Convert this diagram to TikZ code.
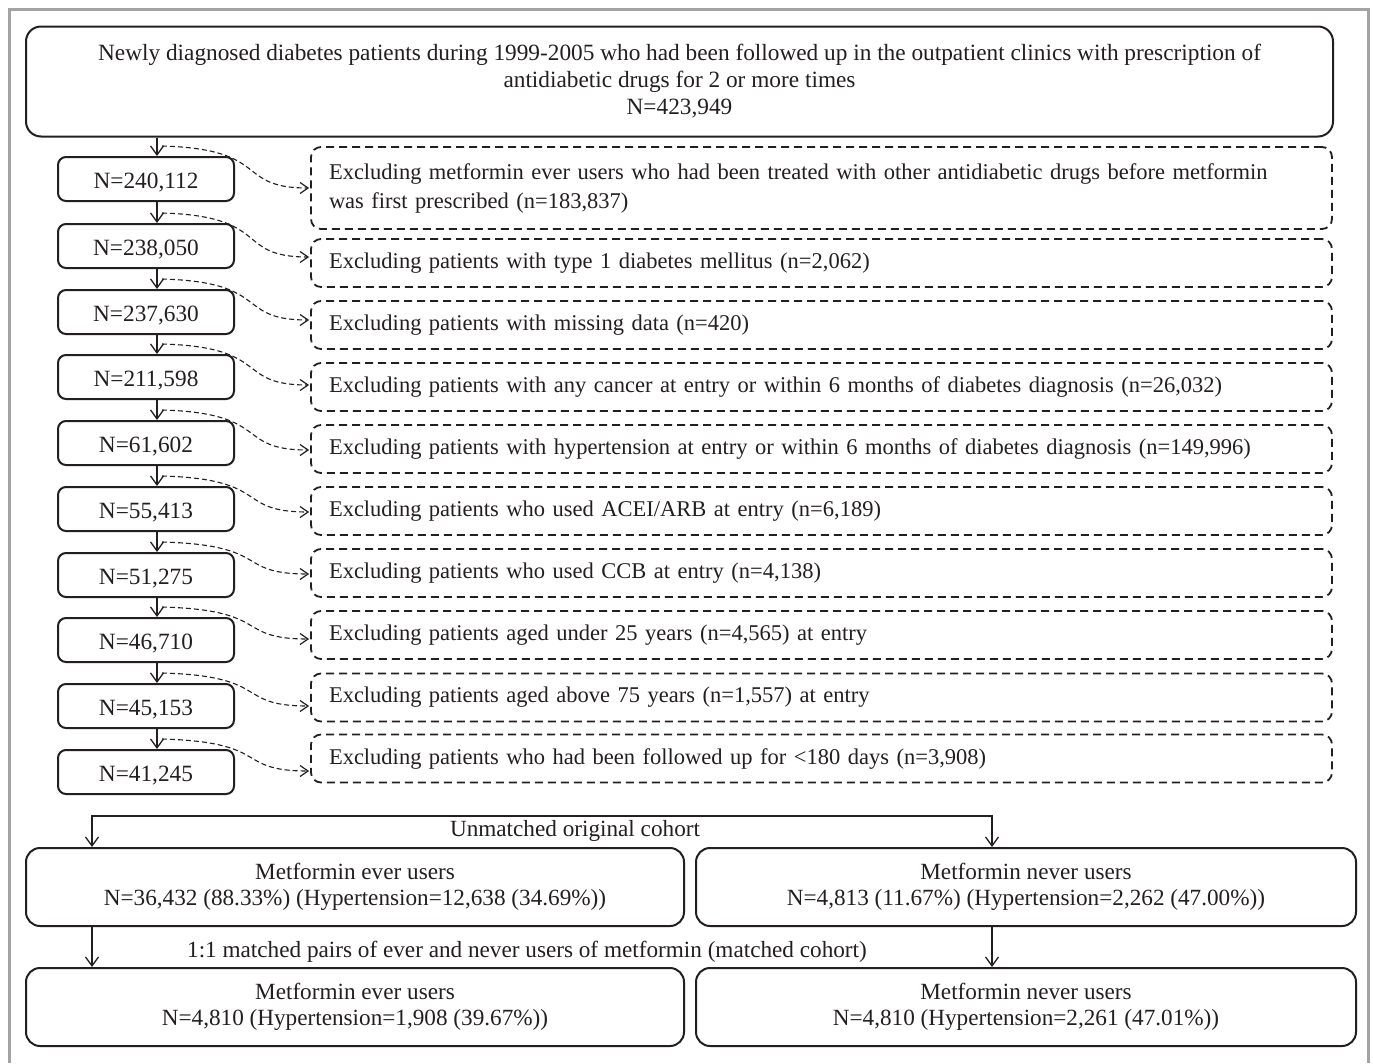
\documentclass[tikz,border=0pt]{standalone}
\usepackage{fontspec}
\setmainfont{Liberation Serif}
\usetikzlibrary{arrows.meta,calc}
\definecolor{ink}{HTML}{231F20}
\definecolor{framegray}{HTML}{A3A3A3}
\begin{document}
\begin{tikzpicture}[x=1pt,y=-1pt,
  font=\fontsize{23.2}{26.5}\selectfont,
  every node/.style={text=ink},
  topbox/.style={draw=ink, line width=2pt, rounded corners=15pt, inner sep=0pt, align=center,
    minimum width=1307pt, minimum height=110pt, font=\fontsize{23.3}{27}\selectfont},
  nbox/.style={draw=ink, line width=2pt, rounded corners=8pt, inner sep=0pt,
    minimum width=176pt, minimum height=44pt, text height=19pt, text depth=0pt,
    font=\fontsize{23.3}{27}\selectfont},
  exbox/.style={draw=ink, line width=1.8pt, dash pattern=on 8pt off 5pt, rounded corners=10pt,
    minimum width=1021pt, text width=985pt, inner xsep=17pt, inner ysep=0pt, align=left, minimum height=48pt,
    font=\fontsize{22.5}{29}\selectfont},
  grpbox/.style={draw=ink, line width=2pt, rounded corners=14pt, inner sep=0pt, align=center,
    minimum height=78pt},
  arr/.style={draw=ink, line width=1.3pt, -{Straight Barb[length=9pt,width=13pt,line width=1.3pt]}},
  biarr/.style={draw=ink, line width=1.3pt, {Straight Barb[length=9pt,width=13pt,line width=1.3pt]}-{Straight Barb[length=9pt,width=13pt,line width=1.3pt]}},
  exarr/.style={draw=ink, line width=1.1pt, dash pattern=on 5pt off 3pt, -{Straight Barb[length=8pt,width=11pt,line width=1.2pt]}},
  lbl/.style={inner sep=0pt}
]
\useasboundingbox (0,0) rectangle (1373,1063);
\fill[white] (0,0) rectangle (1373,1063);
\draw[framegray, line width=3pt] (9,1063) -- (9,9) -- (1368,9) -- (1368,1063);

\node[topbox] (top) at (679.5,81.5) {Newly diagnosed diabetes patients during 1999-2005 who had been followed up in the outpatient clinics with prescription of\\antidiabetic drugs for 2 or more times\\N=423,949};

\node[nbox] (b1) at (146,179) {N=240,112};
\node[nbox] (b2) at (146,246) {N=238,050};
\node[nbox] (b3) at (146,312) {N=237,630};
\node[nbox] (b4) at (146,377) {N=211,598};
\node[nbox] (b5) at (146,443) {N=61,602};
\node[nbox] (b6) at (146,509) {N=55,413};
\node[nbox] (b7) at (146,575) {N=51,275};
\node[nbox] (b8) at (146,640) {N=46,710};
\node[nbox] (b9) at (146,706) {N=45,153};
\node[nbox] (b10) at (146,772) {N=41,245};

\node[exbox, minimum height=82pt] (d1) at (821.5,188) {Excluding metformin ever users who had been treated with other antidiabetic drugs before metformin\\was first prescribed (n=183,837)};
\node[exbox] (d2) at (821.5,263) {Excluding patients with type 1 diabetes mellitus (n=2,062)};
\node[exbox] (d3) at (821.5,325) {Excluding patients with missing data (n=420)};
\node[exbox] (d4) at (821.5,387) {Excluding patients with any cancer at entry or within 6 months of diabetes diagnosis (n=26,032)};
\node[exbox] (d5) at (821.5,449) {Excluding patients with hypertension at entry or within 6 months of diabetes diagnosis (n=149,996)};
\node[exbox] (d6) at (821.5,511) {Excluding patients who used ACEI/ARB at entry (n=6,189)};
\node[exbox] (d7) at (821.5,573) {Excluding patients who used CCB at entry (n=4,138)};
\node[exbox] (d8) at (821.5,635) {Excluding patients aged under 25 years (n=4,565) at entry};
\node[exbox] (d9) at (821.5,697.5) {Excluding patients aged above 75 years (n=1,557) at entry};
\node[exbox] (d10) at (821.5,758.5) {Excluding patients who had been followed up for <180 days (n=3,908)};

\coordinate (ax) at (157,0);
\draw[arr] (top.south -| ax) -- (b1.north -| ax);
\foreach \i/\j in {1/2,2/3,3/4,4/5,5/6,6/7,7/8,8/9,9/10}{
  \draw[arr] (b\i.south -| ax) -- (b\j.north -| ax);
}
\foreach \i/\off in {1/0,2/-6,3/-5,4/-2,5/1,6/1,7/1,8/4,9/8.5,10/12.5}{
  \draw[exarr] ($(b\i.north -| ax)+(5,-10)$) .. controls +(110,3) and +(-75,0) .. ($(d\i.west)+(-1,\off)$);
}

\node[grpbox, minimum width=658pt] (e1) at (355,887) {Metformin ever users\\N=36,432 (88.33\%) (Hypertension=12,638 (34.69\%))};
\node[grpbox, minimum width=660pt] (n1) at (1026,887) {Metformin never users\\N=4,813 (11.67\%) (Hypertension=2,262 (47.00\%))};
\node[grpbox, minimum width=658pt] (e2) at (355,1007) {Metformin ever users\\N=4,810 (Hypertension=1,908 (39.67\%))};
\node[grpbox, minimum width=660pt] (n2) at (1026,1007) {Metformin never users\\N=4,810 (Hypertension=2,261 (47.01\%))};

\coordinate (ul) at (92,816);
\coordinate (ur) at (992,816);
\draw[biarr] (e1.north -| ul) -- (ul) -- (ur) -- (n1.north -| ur);
\node[lbl] (unm) at (575,831) {Unmatched original cohort};
\draw[arr] (e1.south -| ul) -- (e2.north -| ul);
\draw[arr] (n1.south -| ur) -- (n2.north -| ur);
\node[lbl] (mat) at (527,952) {1:1 matched pairs of ever and never users of metformin (matched cohort)};
\end{tikzpicture}
\end{document}
